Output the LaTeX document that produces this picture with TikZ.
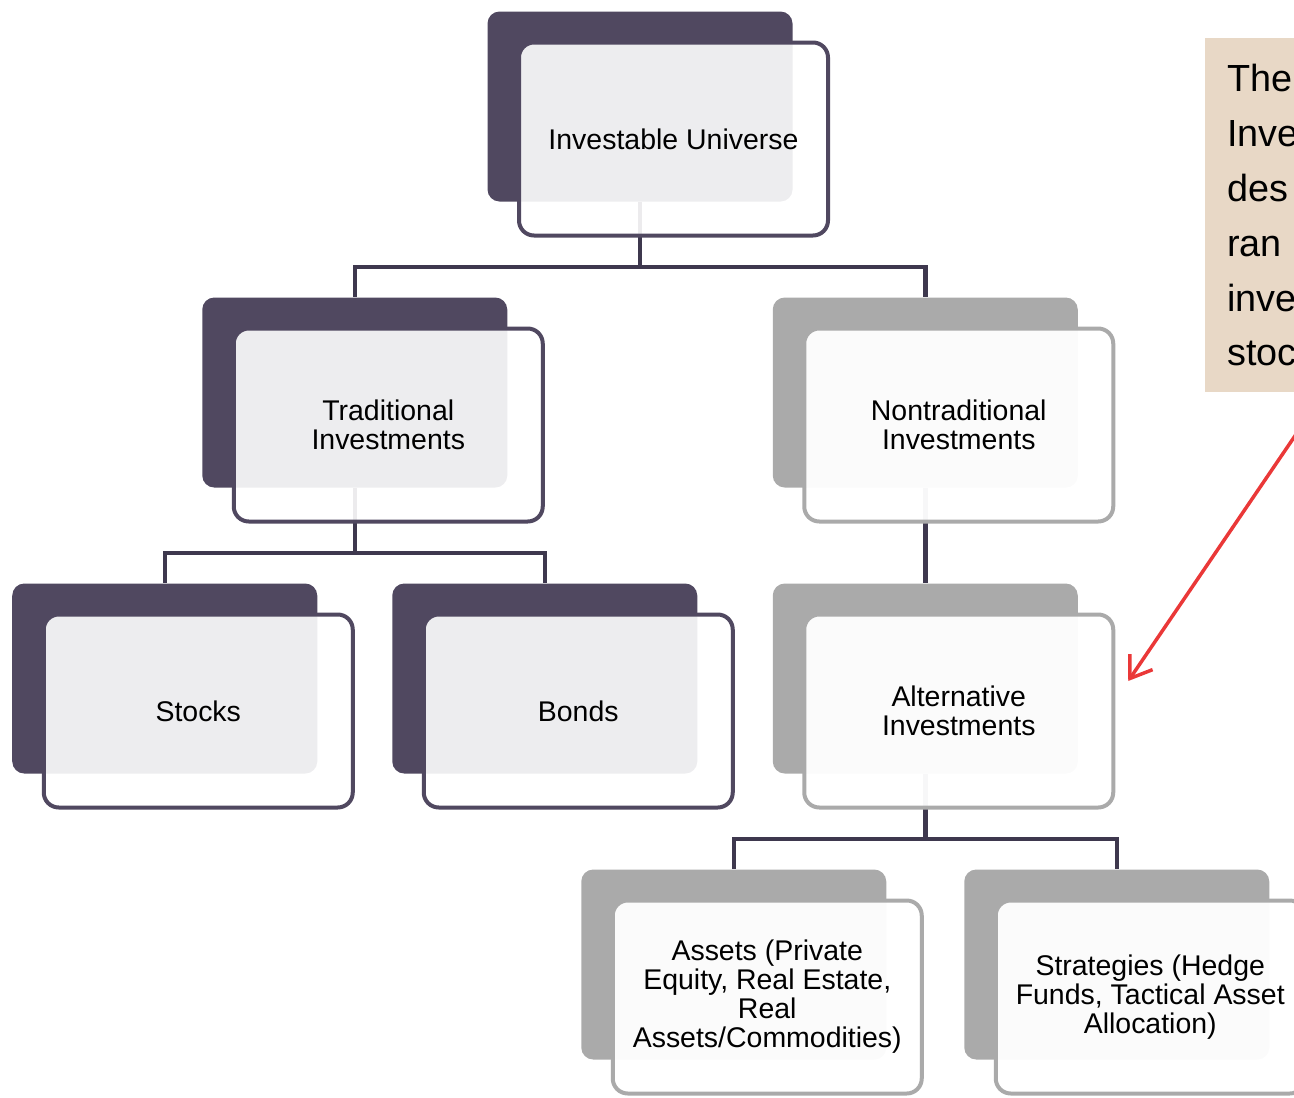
\documentclass[tikz,border=0pt]{standalone}
\usepackage{fontspec}
\setmainfont{Liberation Sans}
\usetikzlibrary{trees,positioning,arrows.meta}
\definecolor{darkback}{RGB}{80,72,96}
\definecolor{greyback}{RGB}{170,170,170}
\definecolor{linkcol}{RGB}{62,56,78}
\definecolor{notetan}{RGB}{232,216,198}
\definecolor{arrowred}{RGB}{234,56,56}

\begin{document}
\begin{tikzpicture}[
% Box styles
		back/.style={rectangle
							    , rounded corners=0.24cm
							    , minimum width=6.1cm
							    , minimum height=3.8cm
							    , inner sep=0pt},
		backdark/.style={back, fill=darkback},
		backgrey/.style={back, fill=greyback},
		front/.style={rectangle
							    , rounded corners=0.3cm
							    , fill=white, text opacity=1
							    , line width=0.08cm
							    , minimum width=6.18cm
							    , minimum height=3.86cm
							    , align=center
							    , font=\fontsize{16.2}{16.5}\selectfont
							    , shift={(0.67,-0.65)}},
		frontdark/.style={front, draw=darkback, fill opacity=0.9},
		frontgrey/.style={front, draw=greyback, fill opacity=0.96},
		note/.style={rectangle
							    , fill=notetan
							    , anchor=north west
							    , inner xsep=0.44cm
							    , text width=3.88cm
							    , minimum height=7.08cm
							    , align=left
							    , font=\fontsize{21.5}{31.2}\selectfont},
% Children and edges style
		edge from parent/.style={draw=linkcol, line width=0.09cm},
		edge from parent path={(\tikzparentnode.south) -- ++(0,-1.3) -| (\tikzchildnode.north)},
    level distance=5.72cm,
    level 1/.style={sibling distance=11.41cm},
    level 2/.style={sibling distance=7.6cm},
    level 3/.style={sibling distance=7.66cm}
	]
	\useasboundingbox (0,0) rectangle (25.88,-21.96);
%% Back boxes and edges
	    \node [backdark] (uni) at (12.8,-2.13) {}
	      child {node [backdark] (tra) {}
	        child {node [backdark] (sto) {}}
	        child {node [backdark] (bon) {}}}
	      child {node [backgrey] (non) {}
	        child {node [backgrey] (alt) {}
	          child {node [backgrey] (ass) {}}
	          child {node [backgrey] (str) {}}}};
%% Front boxes
	\node [frontdark] (uni-f) at (uni) {Investable Universe};
	\node [frontdark] (tra-f) at (tra) {Traditional\\Investments};
	\node [frontdark] (sto-f) at (sto) {Stocks};
	\node [frontdark] (bon-f) at (bon) {Bonds};
	\node [frontgrey] (non-f) at (non) {Nontraditional\\Investments};
	\node [frontgrey] (alt-f) at (alt) {Alternative\\Investments};
	\node [frontgrey] (ass-f) at (ass) {Assets (Private\\Equity, Real Estate,\\Real\\Assets/Commodities)};
	\node [frontgrey] (str-f) at (str) {Strategies (Hedge\\Funds, Tactical Asset\\Allocation)};
%% Note and arrow
	\node [note] (note) at (24.1,-0.76) {The\\Inve\\des\\ran\\inve\\stoc};
	\coordinate [above right=0.6cm and 0.26cm of alt-f.east] (tip);
	\draw [arrowred, line width=0.07cm, -{Straight Barb[length=0.4cm,width=0.55cm]}] (note.south) -- (tip);
\end{tikzpicture}
\end{document}
